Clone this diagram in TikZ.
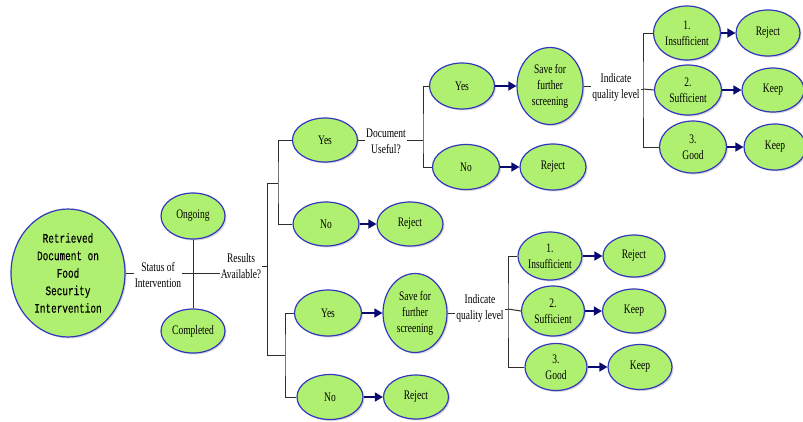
\documentclass[tikz,border=0pt]{standalone}
\usepackage{fontspec}
\setmainfont[FakeStretch=0.73]{Liberation Serif}
\newfontfamily\monof[FakeStretch=0.72,FakeBold=0.3]{Liberation Mono}
\usetikzlibrary{shapes.geometric,arrows.meta,shadows}
\definecolor{nodegreen}{RGB}{176,240,112}
\definecolor{nodeblue}{RGB}{50,55,190}
\definecolor{arrownavy}{RGB}{10,10,115}
\definecolor{linegray}{RGB}{45,45,45}
\tikzset{
  ov/.style={ellipse, draw=nodeblue, fill=nodegreen, line width=1.2pt, inner sep=0pt,
    align=center, font=\fontsize{13}{16}\selectfont,
    drop shadow={opacity=0.3, shadow xshift=1.5pt, shadow yshift=-1.5pt}},
  lab/.style={align=center, inner sep=1pt, font=\fontsize{13}{16}\selectfont},
  conn/.style={draw=linegray, line width=1pt},
  arr/.style={draw=arrownavy, line width=1.5pt, -{Triangle[length=8pt,width=9pt]}}
}
\begin{document}
\begin{tikzpicture}[x=1pt,y=-1pt]
\useasboundingbox (0,0) rectangle (803,421);
% nodes
\node[ov, minimum width=114pt, minimum height=128pt, font=\monof\fontsize{13}{17.5}\selectfont] (ret) at (68,273) {Retrieved\\Document on\\Food\\Security\\Intervention};
\node[ov, minimum width=64pt, minimum height=46pt] (on) at (193,216) {Ongoing};
\node[ov, minimum width=64pt, minimum height=44pt] (co) at (193,331) {Completed};
\node[lab] (st) at (158,275) {Status of\\Intervention};
\node[lab] (res) at (241,266) {Results\\Available?};

\node[ov, minimum width=65pt, minimum height=44pt] (yes1) at (325,140) {Yes};
\node[ov, minimum width=66pt, minimum height=44pt] (no1) at (326,224) {No};
\node[ov, minimum width=66pt, minimum height=44pt] (rj1) at (410,224) {Reject};
\node[lab] (doc) at (386,141) {Document\\Useful?};

\node[ov, minimum width=65pt, minimum height=46pt] (yes2) at (462,86) {Yes};
\node[ov, minimum width=67pt, minimum height=45pt] (no2) at (466,167) {No};
\node[ov, minimum width=66pt, minimum height=77pt] (sv1) at (550,86) {Save for\\further\\screening};
\node[ov, minimum width=66pt, minimum height=46pt] (rj2) at (553,167) {Reject};
\node[lab] (iq1) at (616,87) {Indicate\\quality level};

\node[ov, minimum width=67pt, minimum height=54pt] (in1) at (687,33) {1.\\Insufficient};
\node[ov, minimum width=64pt, minimum height=46pt] (rj3) at (768,33) {Reject};
\node[ov, minimum width=67pt, minimum height=50pt] (su1) at (688,90) {2.\\Sufficient};
\node[ov, minimum width=62pt, minimum height=44pt] (kp1) at (773,90) {Keep};
\node[ov, minimum width=67pt, minimum height=52pt] (gd1) at (693,147) {3.\\Good};
\node[ov, minimum width=62pt, minimum height=46pt] (kp2) at (775,147) {Keep};

\node[ov, minimum width=67pt, minimum height=46pt] (yes3) at (328,313) {Yes};
\node[ov, minimum width=66pt, minimum height=45pt] (no3) at (330,397) {No};
\node[ov, minimum width=64pt, minimum height=79pt] (sv2) at (415,313) {Save for\\further\\screening};
\node[ov, minimum width=65pt, minimum height=44pt] (rj4) at (416,397) {Reject};
\node[lab] (iq2) at (480,308) {Indicate\\quality level};

\node[ov, minimum width=64pt, minimum height=48pt] (in2) at (550,256) {1.\\Insufficient};
\node[ov, minimum width=62pt, minimum height=42pt] (rj5) at (634,256) {Reject};
\node[ov, minimum width=63pt, minimum height=50pt] (su2) at (553,311) {2.\\Sufficient};
\node[ov, minimum width=63pt, minimum height=44pt] (kp3) at (634,311) {Keep};
\node[ov, minimum width=62pt, minimum height=47pt] (gd2) at (556,367) {3.\\Good};
\node[ov, minimum width=64pt, minimum height=45pt] (kp4) at (640,367) {Keep};

% bracket coordinates
\coordinate (b0) at (267,266);
\coordinate (b0t) at (267,183);
\coordinate (b0b) at (267,355);
\coordinate (bu) at (278,183);
\coordinate (bl) at (285,355);
\coordinate (bd) at (423,140);
\coordinate (bq1) at (643,89);
\coordinate (bq2) at (508,309);

% connectors
\draw[conn] (ret.east) -- (ret.east -| st.west);
\draw[conn] (ret.east -| st.east) -- (ret.east -| res.west);
\draw[conn] (on.south) -- (co.north);
\draw[conn] (res.east |- b0) -- (b0);
\draw[conn] (b0t) -- (b0b);
\draw[conn] (b0t) -- (bu);
\draw[conn] (b0b) -- (bl);
\draw[conn] (yes1.west) -| (bu) |- (no1.west);
\draw[conn] (yes3.west) -| (bl) |- (no3.west);
\draw[conn] (yes1.east) -- (yes1.east -| doc.west);
\draw[conn] (doc.east |- bd) -- (bd);
\draw[conn] (yes2.west) -| (bd) |- (no2.west);
\draw[conn] (sv1.east) -- (sv1.east -| iq1.west);
\draw[conn] (iq1.east |- bq1) -- (bq1);
\draw[conn] (in1.west) -| (bq1) |- (gd1.west);
\draw[conn] (bq1) -- (su1.west);
\draw[conn] (sv2.east) -- (sv2.east -| iq2.west);
\draw[conn] (iq2.east |- bq2) -- (bq2);
\draw[conn] (in2.west) -| (bq2) |- (gd2.west);
\draw[conn] (bq2) -- (su2.west);

% arrows
\draw[arr] (no1) -- (rj1);
\draw[arr] (yes2) -- (sv1);
\draw[arr] (no2) -- (rj2);
\draw[arr] (in1) -- (rj3);
\draw[arr] (su1) -- (kp1);
\draw[arr] (gd1) -- (kp2);
\draw[arr] (yes3) -- (sv2);
\draw[arr] (no3) -- (rj4);
\draw[arr] (in2) -- (rj5);
\draw[arr] (su2) -- (kp3);
\draw[arr] (gd2) -- (kp4);
\end{tikzpicture}
\end{document}
